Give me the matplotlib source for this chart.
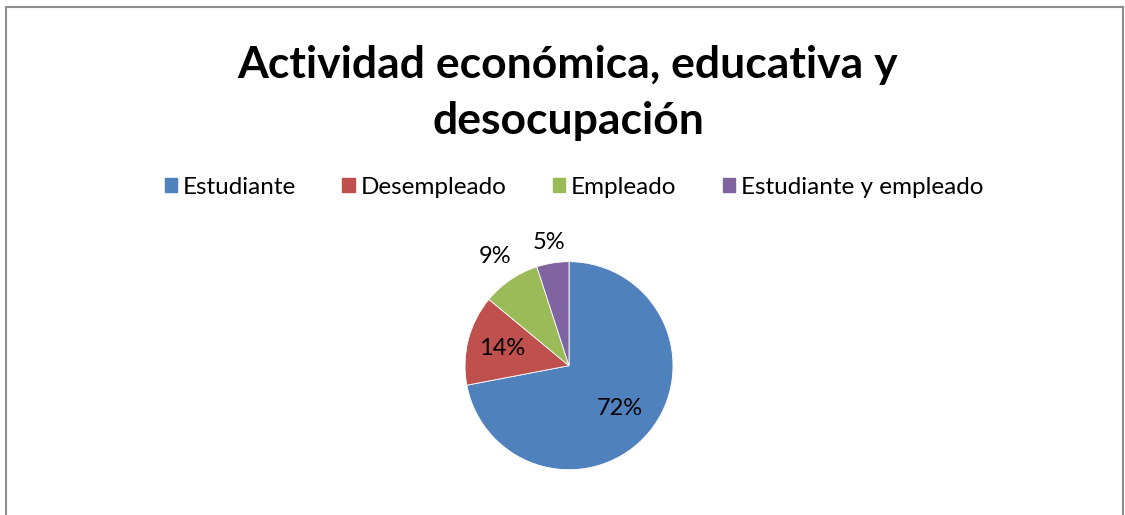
import matplotlib.pyplot as plt
import numpy as np
from matplotlib.lines import Line2D

# ----------------------------
# Data
# ----------------------------
categories = ["Estudiante", "Desempleado", "Empleado", "Estudiante y empleado"]
values = [72, 14, 9, 5]
colors = ["#4F81BD", "#C0504D", "#9BBB59", "#8064A2"]
label_radius = [0.64, 0.66, 1.27, 1.2]

W, H = 1125, 515
fig = plt.figure(figsize=(W / 100, H / 100), dpi=100)
fig.patch.set_facecolor("white")

# ----------------------------
# Frame (open at bottom)
# ----------------------------
def px(x, y):
    return x / W, 1 - y / H

for (x0, y0), (x1, y1) in [((6, 520), (6, 7)), ((6, 7), (1123, 7)), ((1123, 7), (1123, 520))]:
    a, b = px(x0, y0)
    c, d = px(x1, y1)
    fig.add_artist(Line2D([a, c], [b, d], color="#8C8C8C", lw=1.5, transform=fig.transFigure))

# ----------------------------
# Title
# ----------------------------
fig.text(568 / W, 1 - 93 / H, "Actividad económica, educativa y\ndesocupación",
         ha="center", va="center", fontsize=32, fontweight="bold",
         family=["Lato", "DejaVu Sans"], linespacing=1.5)

# ----------------------------
# Pie
# ----------------------------
cx, cy, r = 569, 365.7, 104
ax = fig.add_axes([(cx - r) / W, (H - cy - r) / H, 2 * r / W, 2 * r / H])
wedges, _ = ax.pie(values, colors=colors, startangle=90, counterclock=False,
                   radius=1, wedgeprops=dict(edgecolor="white", linewidth=0.6))
ax.set_xlim(-1, 1)
ax.set_ylim(-1, 1)
ax.set_aspect("equal")
ax.axis("off")

for w, v, lr in zip(wedges, values, label_radius):
    mid = np.deg2rad((w.theta1 + w.theta2) / 2)
    ax.text(lr * np.cos(mid), lr * np.sin(mid), f"{v}%", ha="center", va="center",
            fontsize=17, family=["Lato", "DejaVu Sans"], color="black")

# ----------------------------
# Legend
# ----------------------------
handles = [plt.Rectangle((0, 0), 1, 1, color=c) for c in colors]
fig.legend(handles, categories, ncol=4, loc="center", bbox_to_anchor=(574 / W, 1 - 187 / H),
           frameon=False, prop={"family": ["Lato", "DejaVu Sans"], "size": 17.5},
           handlelength=0.5, handleheight=0.5, handletextpad=0.25, columnspacing=1.9)

plt.savefig("out.png", dpi=100)
